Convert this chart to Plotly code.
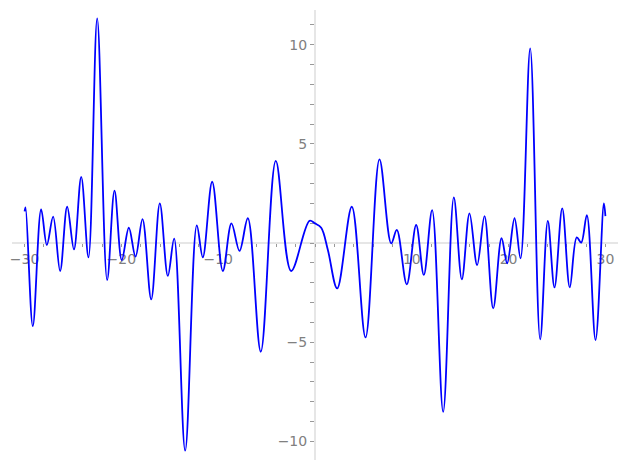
import plotly.graph_objects as go

# Curve sample points (local extrema and a few shoulders)
x_vals = [-30.0, -29.9, -29.15, -28.29, -27.7, -27.05, -26.33, -25.6, -24.9, -24.15, -23.4,
          -22.5, -21.47, -20.71, -19.96, -19.23, -18.54, -17.82, -16.92, -16.03, -15.2,
          -14.55, -13.41, -12.21, -11.59, -10.62, -9.52, -8.63, -7.8, -6.94, -5.6,
          -4.05, -2.46, -0.57, 0.0, 0.64, 1.33, 2.29, 3.8, 5.22, 6.66, 7.87, 8.45,
          9.48, 10.45, 11.24, 12.1, 13.24, 14.34, 15.17, 15.96, 16.75, 17.51, 18.41,
          19.27, 19.85, 20.61, 21.23, 22.23, 23.26, 24.05, 24.74, 25.54, 26.32, 27.04,
          27.5, 28.08, 28.98, 29.84, 30.0]
y_vals = [1.6, 1.8, -4.19, 1.70, -0.10, 1.33, -1.41, 1.83, -0.32, 3.34, -0.72,
          11.33, -1.87, 2.64, -0.86, 0.77, -0.69, 1.21, -2.84, 2.00, -1.66,
          0.22, -10.47, 0.89, -0.72, 3.09, -1.41, 0.99, -0.40, 1.25, -5.48,
          4.14, -1.41, 1.12, 0.99, 0.77, -0.35, -2.29, 1.83, -4.76, 4.22, -0.02, 0.66,
          -2.08, 0.91, -1.61, 1.66, -8.51, 2.30, -1.83, 1.50, -1.11, 1.36, -3.29,
          0.24, -1.02, 1.25, -0.77, 9.82, -4.86, 1.12, -2.24, 1.75, -2.24, 0.29,
          0.02, 1.41, -4.89, 2.0, 1.36]

x_major = [-30, -20, -10, 10, 20, 30]
y_major = [-10, -5, 5, 10]

x_ticks = list(range(-30, 31, 2))
x_text = [("\u2212%d" % -v if v < 0 else str(v)) if v in x_major else "" for v in x_ticks]
y_ticks = list(range(-10, 12))
y_text = [("\u2212%d" % -v if v < 0 else str(v)) if v in y_major else "" for v in y_ticks]

x_range = [-31.3, 31.3]
y_range = [-10.94, 11.75]

fig = go.Figure()
fig.add_trace(go.Scatter(x=x_vals, y=y_vals, mode="lines",
                         line=dict(color="#0000ff", width=1.8, shape="spline", smoothing=1.0),
                         hoverinfo="skip"))

axis_font = dict(family="DejaVu Sans", size=14, color="#808080")
fig.update_layout(
    width=627, height=470,
    margin=dict(l=4, r=17, t=2, b=18, autoexpand=False),
    paper_bgcolor="white", plot_bgcolor="white",
    showlegend=False,
    xaxis=dict(range=x_range, showgrid=False, zeroline=False, automargin=False,
               showline=True, linecolor="#e6e6e6", linewidth=2, layer="below traces",
               anchor="free", position=(0 - y_range[0]) / (y_range[1] - y_range[0]),
               tickmode="array", tickvals=x_ticks, ticktext=x_text,
               ticks="outside", ticklen=3, tickcolor="#999999", tickfont=axis_font),
    yaxis=dict(range=y_range, showgrid=False, zeroline=False, automargin=False,
               showline=True, linecolor="#e6e6e6", linewidth=2, layer="below traces",
               anchor="free", position=(0 - x_range[0]) / (x_range[1] - x_range[0]),
               tickmode="array", tickvals=y_ticks, ticktext=y_text,
               ticks="outside", ticklen=4, tickcolor="#999999", tickfont=axis_font),
)

fig.write_html("out.html")
